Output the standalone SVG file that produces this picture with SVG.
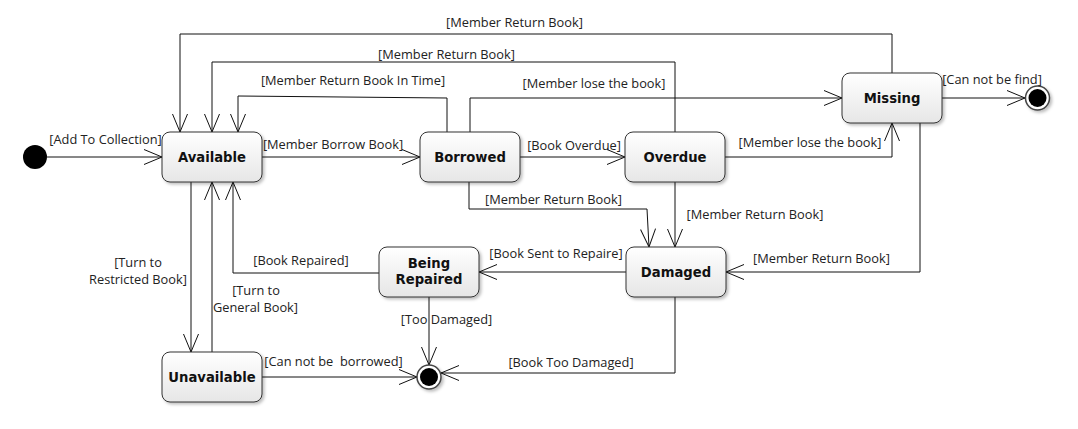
<svg xmlns="http://www.w3.org/2000/svg" width="1078" height="429" viewBox="0 0 1078 429">
<style>
.st{fill:url(#g);stroke:#333;stroke-width:1;filter:url(#sh)}
.sn{font-family:"DejaVu Sans",Verdana,sans-serif;font-weight:bold;font-size:13.2px;text-anchor:middle;fill:#111}
.lb{font-family:"Open Sans","Segoe UI",sans-serif;font-size:12.8px;text-anchor:middle;fill:#222;white-space:pre}
.e{fill:none;stroke:#111;stroke-width:1;marker-end:url(#a)}
</style>
<defs>
<linearGradient id="g" x1="0" y1="0" x2="0" y2="1">
<stop offset="0" stop-color="#ffffff"/>
<stop offset="1" stop-color="#e6e6e6"/>
</linearGradient>
<filter id="sh" x="-20%" y="-20%" width="150%" height="160%">
<feDropShadow dx="2" dy="2" stdDeviation="1.5" flood-color="#000" flood-opacity="0.25"/>
</filter>
<marker id="a" markerUnits="userSpaceOnUse" markerWidth="22" markerHeight="20" viewBox="-20 -10 22 20" refX="0" refY="0" orient="auto">
<path d="M-18,-7.5 L0,0 L-18,7.5" fill="none" stroke="#111" stroke-width="1"/>
</marker>
</defs>
<rect width="1078" height="429" fill="#fff"/>
<g id="connectors">
<path class="e" d="M47,157 L162,157"/>
<path class="e" d="M262,157 L420,157"/>
<path class="e" d="M520,157 L625,157"/>
<path class="e" d="M725,157 L892,157 L892,123"/>
<path class="e" d="M470,132 L470,98 L842,98"/>
<path class="e" d="M447,132 L447,98 L238,96 L238,132"/>
<path class="e" d="M675,132 L675,62 L212,62 L212,132"/>
<path class="e" d="M892,73 L892,34 L180,34 L180,132"/>
<path class="e" d="M942,98 L1025,98"/>
<path class="e" d="M920,123 L920,272 L726,272"/>
<path class="e" d="M675,182 L675,247"/>
<path class="e" d="M469,182 L469,209 L647,209 L649,247"/>
<path class="e" d="M626,272 L479,272"/>
<path class="e" d="M379,273 L233,273 L233,182"/>
<path class="e" d="M429,297 L429,365"/>
<path class="e" d="M675,297 L675,373 L441,373"/>
<path class="e" d="M262,377 L417,377"/>
<path class="e" d="M191,182 L191,352"/>
<path class="e" d="M212,352 L212,182"/>
<text class="lb" x="105.5" y="144">[Add To Collection]</text>
<text class="lb" x="333" y="149">[Member Borrow Book]</text>
<text class="lb" x="574" y="150">[Book Overdue]</text>
<text class="lb" x="810" y="147">[Member lose the book]</text>
<text class="lb" x="594" y="88">[Member lose the book]</text>
<text class="lb" x="353" y="85">[Member Return Book In Time]</text>
<text class="lb" x="446.5" y="59">[Member Return Book]</text>
<text class="lb" x="514.5" y="27">[Member Return Book]</text>
<text class="lb" x="992" y="84">[Can not be find]</text>
<text class="lb" x="821.5" y="263">[Member Return Book]</text>
<text class="lb" x="755" y="219">[Member Return Book]</text>
<text class="lb" x="553.5" y="204">[Member Return Book]</text>
<text class="lb" x="556" y="258">[Book Sent to Repaire]</text>
<text class="lb" x="301" y="265">[Book Repaired]</text>
<text class="lb" x="446.5" y="324">[Too Damaged]</text>
<text class="lb" x="571" y="367">[Book Too Damaged]</text>
<text class="lb" x="333.5" y="366" xml:space="preserve">[Can not be  borrowed]</text>
<text class="lb" x="138" y="267">[Turn to</text>
<text class="lb" x="138" y="284">Restricted Book]</text>
<text class="lb" x="256" y="295">[Turn to</text>
<text class="lb" x="255.5" y="312">General Book]</text>
</g>
<g id="initial">
<circle cx="35" cy="157" r="12" fill="#000"/>
</g>
<g id="available">
<rect class="st" x="162" y="132" width="100" height="50" rx="8"/>
<text class="sn" x="212" y="162">Available</text>
</g>
<g id="borrowed">
<rect class="st" x="420" y="132" width="100" height="50" rx="8"/>
<text class="sn" x="470" y="162">Borrowed</text>
</g>
<g id="overdue">
<rect class="st" x="625" y="132" width="100" height="50" rx="8"/>
<text class="sn" x="675" y="162">Overdue</text>
</g>
<g id="missing">
<rect class="st" x="842" y="73" width="100" height="50" rx="8"/>
<text class="sn" x="892" y="103">Missing</text>
</g>
<g id="damaged">
<rect class="st" x="626" y="247" width="100" height="50" rx="8"/>
<text class="sn" x="676" y="277">Damaged</text>
</g>
<g id="being-repaired">
<rect class="st" x="379" y="247" width="100" height="50" rx="8"/>
<text class="sn" x="429" y="268">Being</text>
<text class="sn" x="429" y="284">Repaired</text>
</g>
<g id="unavailable">
<rect class="st" x="162" y="352" width="100" height="50" rx="8"/>
<text class="sn" x="212" y="382">Unavailable</text>
</g>
<g id="final-missing">
<circle cx="1037.5" cy="98" r="12" fill="#fff" stroke="#444" stroke-width="1.5" filter="url(#sh)"/>
<circle cx="1037.5" cy="98" r="9" fill="#000"/>
</g>
<g id="final-main">
<circle cx="429" cy="377" r="12" fill="#fff" stroke="#444" stroke-width="1.5" filter="url(#sh)"/>
<circle cx="429" cy="377" r="9" fill="#000"/>
</g>
</svg>
